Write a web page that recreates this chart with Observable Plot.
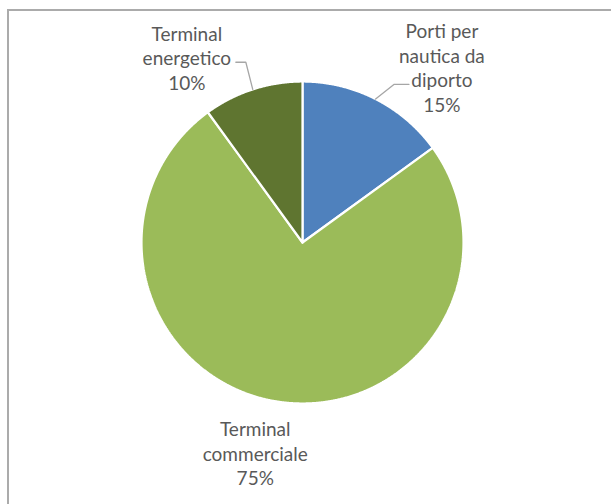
<!DOCTYPE html>
<html>
<head>
<meta charset="utf-8">
<script src="https://cdn.jsdelivr.net/npm/d3@7"></script>
<script src="https://cdn.jsdelivr.net/npm/@observablehq/plot@0.6"></script>
<style>
  html, body { margin: 0; padding: 0; background: #fff; }
  #frame {
    position: absolute; left: 7px; top: 9px; width: 640px; height: 540px;
    border-left: 2px solid #ababab; border-top: 2px solid #ababab;
  }
  #chart { position: absolute; left: 0; top: 0; }
</style>
</head>
<body>
<div id="frame"></div>
<div id="chart"></div>
<script>
// Categories, their share (%) and slice colours
const categories = ["Porti per nautica da diporto", "Terminal commerciale", "Terminal energetico"];
const labelNames = ["Porti per\nnautica da\ndiporto", "Terminal\ncommerciale", "Terminal\nenergetico"];
const shares = [15, 75, 10];
const colors = ["#4f81bd", "#9bbb59", "#5f7530"];

// Layout
const W = 611, H = 504;
const cx = 302, cy = 242, R = 161;           // pie centre and radius in px
const px = (v) => v / R;                        // px -> data units
const labelRadius = 1.36;
// label nudges in px (dx, dy) and leader elbow / end offsets from the label centre
const labelLayout = [
  { nudge: [40, 20],  leader: [[-48, 17], [-33, 17]] },
  { nudge: [-13, -6], leader: null },
  { nudge: [-48, 23], leader: [[59, 5], [49, 5]] }
];

const arcs = d3.pie().sort(null).value(d => d)(shares);

// Slice outlines: centre -> arc -> centre
const slicePts = [];
arcs.forEach((a, i) => {
  const key = categories[i];
  slicePts.push({ key, x: 0, y: 0 });
  const n = Math.max(8, Math.ceil((a.endAngle - a.startAngle) / 0.005));
  for (let k = 0; k <= n; k++) {
    const t = a.startAngle + (a.endAngle - a.startAngle) * k / n;
    slicePts.push({ key, x: Math.sin(t), y: Math.cos(t) });
  }
  slicePts.push({ key, x: 0, y: 0 });
});

// Labels and leader lines
const labels = [];
const leaders = [];
arcs.forEach((a, i) => {
  const mid = (a.startAngle + a.endAngle) / 2;
  const L = labelLayout[i];
  const lx = labelRadius * Math.sin(mid) + px(L.nudge[0]);
  const ly = labelRadius * Math.cos(mid) - px(L.nudge[1]);
  labels.push({ x: lx, y: ly, text: `${labelNames[i]}\n${shares[i]}%` });
  if (L.leader) {
    leaders.push({ key: categories[i], x: Math.sin(mid), y: Math.cos(mid) });
    L.leader.forEach(([ox, oy]) => leaders.push({ key: categories[i], x: lx + px(ox), y: ly - px(oy) }));
  }
});

const chart = Plot.plot({
  width: W,
  height: H,
  marginLeft: cx - R,
  marginRight: W - (cx + R),
  marginTop: cy - R,
  marginBottom: H - (cy + R),
  x: { domain: [-1, 1], axis: null },
  y: { domain: [-1, 1], axis: null },
  color: { domain: categories, range: colors },
  style: { background: "transparent", fontFamily: "Lato, sans-serif" },
  marks: [
    Plot.line(slicePts, {
      x: "x", y: "y", z: "key", fill: "key",
      stroke: "white", strokeWidth: 2.2, strokeLinejoin: "miter"
    }),
    Plot.line(leaders, {
      x: "x", y: "y", z: "key",
      stroke: "#a6a6a6", strokeWidth: 1.3, strokeLinejoin: "miter"
    }),
    Plot.text(labels, {
      x: "x", y: "y", text: "text",
      fontSize: 19, lineHeight: 1.29, fill: "#595959"
    })
  ]
});

document.getElementById("chart").append(chart);
</script>
</body>
</html>
